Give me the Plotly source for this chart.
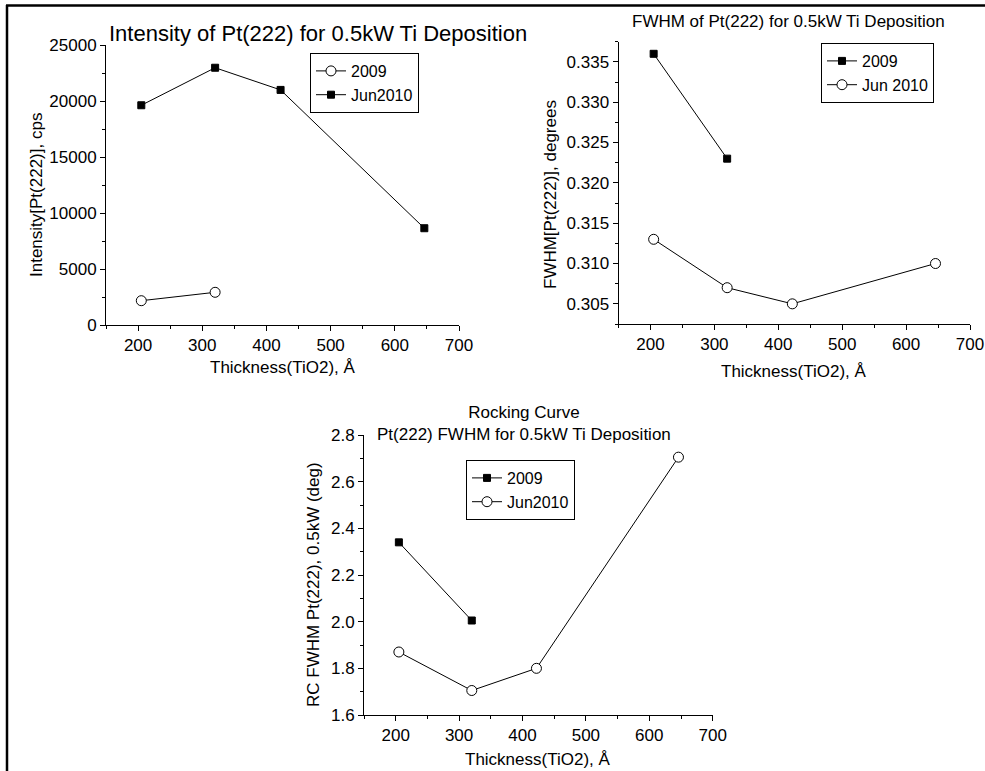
import plotly.graph_objects as go

W, H = 985, 771

thickness = [205, 320, 422, 646]
thickness_2009 = [205, 320]

# Panel 1: Intensity (cps)
int_2009 = [2170, 2920]
int_jun2010 = [19620, 22970, 20990, 8640]

# Panel 2: FWHM (degrees)
fwhm_2009 = [0.336, 0.323]
fwhm_jun2010 = [0.313, 0.307, 0.305, 0.310]

# Panel 3: Rocking curve FWHM (deg)
rc_2009 = [2.34, 2.005]
rc_jun2010 = [1.87, 1.705, 1.80, 2.705]

x_ticks = [200, 300, 400, 500, 600, 700]

FONT = "Liberation Sans, Arial, sans-serif"
TICK_FS = 17
TITLE_FS = 17


def px(x):
    return x / W


def py(y):
    return 1 - y / H


fig = go.Figure()

sq = dict(symbol="square", size=7, color="black", line=dict(color="black", width=1))
ci = dict(symbol="circle", size=10, color="white", line=dict(color="black", width=1))
ln = dict(color="black", width=1)

# Panel 1
fig.add_trace(go.Scatter(x=thickness_2009, y=int_2009, mode="lines+markers", name="2009",
                         marker=ci, line=ln, xaxis="x", yaxis="y", legend="legend"))
fig.add_trace(go.Scatter(x=thickness, y=int_jun2010, mode="lines+markers", name="Jun2010",
                         marker=sq, line=ln, xaxis="x", yaxis="y", legend="legend"))
# Panel 2
fig.add_trace(go.Scatter(x=thickness_2009, y=fwhm_2009, mode="lines+markers", name="2009",
                         marker=sq, line=ln, xaxis="x2", yaxis="y2", legend="legend2"))
fig.add_trace(go.Scatter(x=thickness, y=fwhm_jun2010, mode="lines+markers", name="Jun 2010",
                         marker=ci, line=ln, xaxis="x2", yaxis="y2", legend="legend2"))
# Panel 3
fig.add_trace(go.Scatter(x=thickness_2009, y=rc_2009, mode="lines+markers", name="2009",
                         marker=sq, line=ln, xaxis="x3", yaxis="y3", legend="legend3"))
fig.add_trace(go.Scatter(x=thickness, y=rc_jun2010, mode="lines+markers", name="Jun2010",
                         marker=ci, line=ln, xaxis="x3", yaxis="y3", legend="legend3"))


def xaxis(domain, anchor):
    return dict(domain=domain, anchor=anchor, range=[150, 700], tickvals=x_ticks,
                showgrid=False, zeroline=False, showline=True, linecolor="black", linewidth=1,
                ticks="outside", ticklen=5, tickcolor="black", automargin=False,
                tickfont=dict(size=TICK_FS, color="black", family=FONT),
                minor=dict(ticks="outside", ticklen=3, tickcolor="black", dtick=50, tick0=150, showgrid=False))


def yaxis(domain, anchor, rng, dtick, tick0, mdtick, mtick0, fmt):
    return dict(domain=domain, anchor=anchor, range=rng, dtick=dtick, tick0=tick0,
                tickformat=fmt, showgrid=False, zeroline=False, showline=True, linecolor="black", linewidth=1,
                ticks="outside", ticklen=5, tickcolor="black", automargin=False,
                tickfont=dict(size=TICK_FS, color="black", family=FONT),
                minor=dict(ticks="outside", ticklen=3, tickcolor="black", dtick=mdtick, tick0=mtick0,
                           showgrid=False))


legend_common = dict(bgcolor="white", bordercolor="black", borderwidth=1,
                     font=dict(size=16, color="black", family=FONT), xanchor="left", yanchor="top",
                     tracegroupgap=0, itemwidth=30)

fig.update_layout(
    width=W, height=H,
    margin=dict(l=0, r=0, t=0, b=0),
    paper_bgcolor="white", plot_bgcolor="white",
    font=dict(family=FONT, color="black"),
    xaxis=xaxis([px(106), px(459)], "y"),
    yaxis=yaxis([py(325), py(45)], "x", [0, 25000], 5000, 0, 2500, 0, "d"),
    xaxis2=xaxis([px(618.5), px(970)], "y2"),
    yaxis2=yaxis([py(324), py(41.7)], "x2", [0.3025, 0.3375], 0.005, 0.305, 0.0025, 0.3025, ".3f"),
    xaxis3=xaxis([px(364), px(712.7)], "y3"),
    yaxis3=yaxis([py(715), py(435)], "x3", [1.6, 2.8], 0.2, 1.6, 0.1, 1.6, ".1f"),
    legend=dict(x=px(310), y=py(53), **legend_common),
    legend2=dict(x=px(821), y=py(43), **legend_common),
    legend3=dict(x=px(466), y=py(460), **legend_common),
)

annots = [
    dict(text="Intensity of Pt(222) for 0.5kW Ti Deposition", x=px(317.5), y=py(34), size=22, angle=0),
    dict(text="FWHM of Pt(222) for 0.5kW Ti Deposition", x=px(788), y=py(21), size=17, angle=0),
    dict(text="Rocking Curve<br>Pt(222) FWHM for 0.5kW Ti Deposition", x=px(524), y=py(423), size=17, angle=0),
    dict(text="Thickness(TiO2), Å", x=px(283), y=py(367), size=TITLE_FS, angle=0),
    dict(text="Thickness(TiO2), Å", x=px(794), y=py(371), size=TITLE_FS, angle=0),
    dict(text="Thickness(TiO2), Å", x=px(538), y=py(759), size=TITLE_FS, angle=0),
    dict(text="Intensity[Pt(222)], cps", x=px(36), y=py(195), size=TITLE_FS, angle=-90),
    dict(text="FWHM[Pt(222)], degrees", x=px(550), y=py(195), size=TITLE_FS, angle=-90),
    dict(text="RC FWHM Pt(222), 0.5kW (deg)", x=px(313), y=py(585), size=TITLE_FS, angle=-90),
]
for a in annots:
    fig.add_annotation(text=a["text"], x=a["x"], y=a["y"], xref="paper", yref="paper",
                       xanchor="center", yanchor="middle", showarrow=False, textangle=a["angle"],
                       font=dict(size=a["size"], color="black", family=FONT))

# Frame lines along the top and left edges of the image
fig.add_shape(type="line", xref="paper", yref="paper", x0=px(6), x1=1, y0=py(5.5), y1=py(5.5),
              line=dict(color="black", width=2.5))
fig.add_shape(type="line", xref="paper", yref="paper", x0=px(7), x1=px(7), y0=py(5), y1=0,
              line=dict(color="black", width=2.5))

fig.write_html("out.html", config={"displayModeBar": False},
               post_script="document.body.style.margin='0px';")
